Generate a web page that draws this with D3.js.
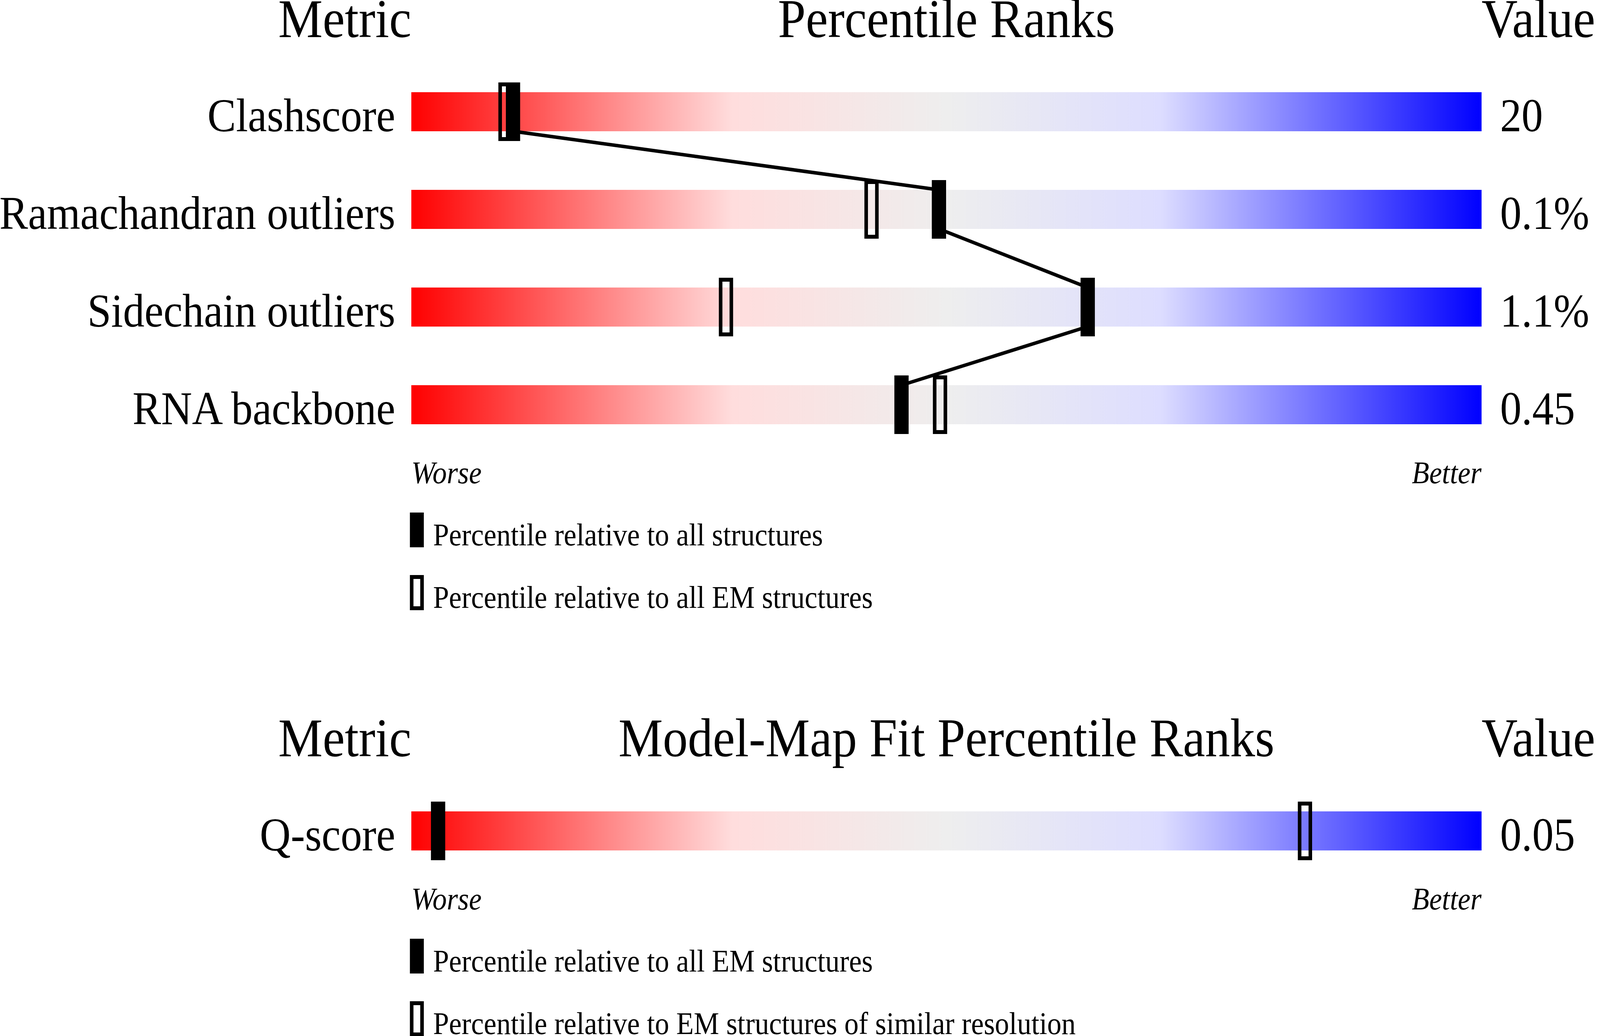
<!DOCTYPE html>
<html>
<head>
<meta charset="utf-8">
<script src="https://cdn.jsdelivr.net/npm/d3@7"></script>
<style>
  html, body { margin: 0; padding: 0; background: #fff; overflow: hidden; }
  svg { display: block; }
  text { font-family: "Liberation Serif", "Times New Roman", serif; fill: #000; }
</style>
</head>
<body>
<div id="chart"></div>
<script>
// Geometry quality metrics
var metrics = ["Clashscore", "Ramachandran outliers", "Sidechain outliers", "RNA backbone"];
var metricValues = ["20", "0.1%", "1.1%", "0.45"];
var pctAll = [9.5, 49.3, 63.2, 45.8];   // filled marker
var pctEM = [8.8, 43.0, 29.4, 49.4];    // open marker
var legendTop = ["Percentile relative to all structures", "Percentile relative to all EM structures"];

// Model-map fit
var fitMetrics = ["Q-score"];
var fitValues = ["0.05"];
var fitPctEM = [2.5];
var fitPctRes = [83.5];
var legendFit = ["Percentile relative to all EM structures", "Percentile relative to EM structures of similar resolution"];

var svgWidth = 4485;
var svgHeight = 2652;

// viewBox so the drawing fills the whole window
var svg = d3.select("#chart")
  .append("svg")
  .attr("viewBox", `0 0 ${svgWidth} ${svgHeight}`)
  .attr("preserveAspectRatio", "none")
  .style("width", "100vw")
  .style("height", "100vh");

// gradient for the slider bars
var grad = svg.append("defs").append("linearGradient")
  .attr("id", "slider")
  .attr("x1", "0%").attr("x2", "100%")
  .attr("y1", "0%").attr("y2", "0%");
[[0, "#ff0000"], [0.3, "#ffdddd"], [0.5, "#eeeeee"], [0.7, "#ddddff"], [1, "#0000ff"]]
  .forEach(function(s) {
    grad.append("stop").attr("offset", s[0]).attr("stop-color", s[1]);
  });

// shared x scale: percentile -> pixels
var x = d3.scaleLinear().domain([0, 100]).range([1153, 4153]);
var barH = 100;
var markW = 40;
var markH = 150;

function drawPanel(top, title, names, values, filled, open, legend) {
  var g = svg.append("g");

  // rows: one every 250px
  var y = d3.scaleLinear().domain([0, 1]).range([top + 141, top + 391]);

  // headers
  g.append("text").attr("x", x(0)).attr("y", top)
    .attr("text-anchor", "end").style("font-size", "140px").text("Metric");
  g.append("text").attr("x", (x(0) + x(100)) / 2).attr("y", top)
    .attr("text-anchor", "middle").style("font-size", "140px").text(title);
  g.append("text").attr("x", x(100)).attr("y", top)
    .attr("text-anchor", "start").style("font-size", "140px").text("Value");

  var rows = names.map(function(n, i) {
    return { name: n, value: values[i], all: filled[i], em: open[i], i: i };
  });

  g.selectAll(".bar")
    .data(rows)
    .enter()
    .append("rect")
    .attr("x", x(0))
    .attr("y", d => y(d.i))
    .attr("width", x(100) - x(0))
    .attr("height", barH)
    .attr("fill", "url(#slider)");

  g.selectAll(".label")
    .data(rows)
    .enter()
    .append("text")
    .attr("x", x(0) - 45)
    .attr("y", d => y(d.i) + barH)
    .attr("text-anchor", "end")
    .style("font-size", "120px")
    .text(d => d.name);

  g.selectAll(".val")
    .data(rows)
    .enter()
    .append("text")
    .attr("x", x(100) + 52)
    .attr("y", d => y(d.i) + barH)
    .style("font-size", "120px")
    .text(d => d.value);

  // open markers
  g.selectAll(".open")
    .data(rows)
    .enter()
    .append("rect")
    .attr("x", d => x(d.em) - markW / 2 + 5)
    .attr("y", d => y(d.i) - 25 + 5)
    .attr("width", markW - 10)
    .attr("height", markH - 10)
    .attr("fill", "none")
    .attr("stroke", "#000")
    .attr("stroke-width", 10);

  // connecting line between filled markers
  for (var i = 0; i < rows.length - 1; i++) {
    g.append("line")
      .attr("x1", x(rows[i].all))
      .attr("y1", y(i) + barH)
      .attr("x2", x(rows[i + 1].all))
      .attr("y2", y(i + 1))
      .attr("stroke", "#000")
      .attr("stroke-width", 9);
  }

  // filled markers
  g.selectAll(".filled")
    .data(rows)
    .enter()
    .append("rect")
    .attr("x", d => x(d.all) - markW / 2)
    .attr("y", d => y(d.i) - 25)
    .attr("width", markW)
    .attr("height", markH)
    .attr("fill", "#000");

  var bottom = y(rows.length - 1) + barH;

  g.append("text").attr("x", x(0)).attr("y", bottom + 151)
    .style("font-size", "80px").style("font-style", "italic").text("Worse");
  g.append("text").attr("x", x(100)).attr("y", bottom + 151)
    .attr("text-anchor", "end")
    .style("font-size", "80px").style("font-style", "italic").text("Better");

  // legend
  var ly = bottom + 226;
  g.append("rect")
    .attr("x", x(0) - 4).attr("y", ly)
    .attr("width", 39).attr("height", 89)
    .attr("fill", "#000");
  g.append("rect")
    .attr("x", x(0) + 1).attr("y", ly + 165)
    .attr("width", 29).attr("height", 80)
    .attr("fill", "none").attr("stroke", "#000").attr("stroke-width", 10);

  g.selectAll(".leg")
    .data(legend)
    .enter()
    .append("text")
    .attr("x", x(0) + 61)
    .attr("y", (d, i) => ly + 84 + i * 160)
    .style("font-size", "80px")
    .text(d => d);
}

drawPanel(95, "Percentile Ranks", metrics, metricValues, pctAll, pctEM, legendTop);
drawPanel(1936, "Model-Map Fit Percentile Ranks", fitMetrics, fitValues, fitPctEM, fitPctRes, legendFit);
</script>
</body>
</html>
